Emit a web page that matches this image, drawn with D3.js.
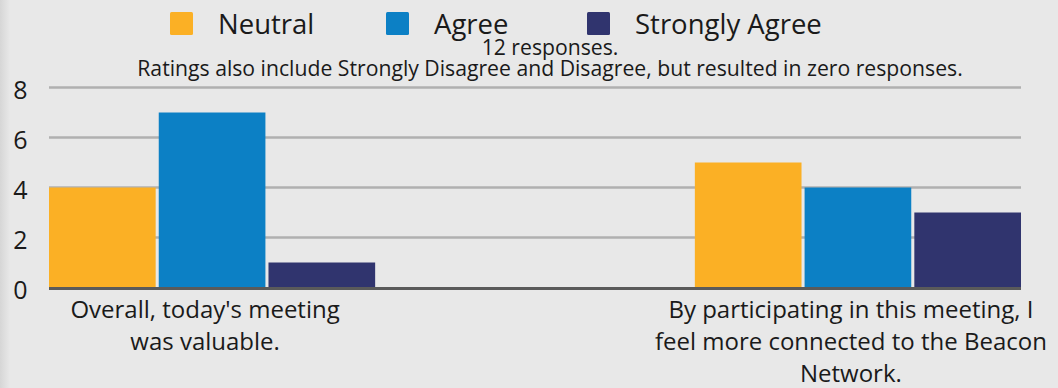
<!DOCTYPE html>
<html>
<head>
<meta charset="utf-8">
<script src="https://cdn.jsdelivr.net/npm/d3@7"></script>
<style>
  html, body { margin: 0; padding: 0; background: #e8e8e8; }
  svg { display: block; font-family: "Open Sans", sans-serif; }
</style>
</head>
<body>
<svg id="chart" width="1058" height="388"></svg>
<script>
// Survey ratings per statement
const categories = [
  "Overall, today's meeting\nwas valuable.",
  "By participating in this meeting, I\nfeel more connected to the Beacon\nNetwork."
];
const seriesNames = ["Neutral", "Agree", "Strongly Agree"];
const neutral = [4, 5];
const agree = [7, 4];
const stronglyAgree = [1, 3];
const yTicks = [0, 2, 4, 6, 8];
const subtitleLines = [
  "12 responses.",
  "Ratings also include Strongly Disagree and Disagree, but resulted in zero responses."
];
const colors = ["#fbb025", "#0c80c5", "#30346e"];

const values = [neutral, agree, stronglyAgree];
const svg = d3.select("#chart");
const W = 1058, H = 388;
const margin = { left: 49, right: 37, top: 88, bottom: 100 };

// soft shading along the left edge
const defs = svg.append("defs");
const grad = defs.append("linearGradient").attr("id", "edge");
grad.append("stop").attr("offset", "0%").attr("stop-color", "#d6d6d6");
grad.append("stop").attr("offset", "100%").attr("stop-color", "#e8e8e8");
svg.append("rect").attr("width", W).attr("height", H).attr("fill", "#e8e8e8");
svg.append("rect").attr("width", 10).attr("height", H).attr("fill", "url(#edge)");

const x0 = d3.scaleBand()
  .domain(d3.range(categories.length))
  .range([margin.left, W - margin.right])
  .paddingInner(0.495)
  .paddingOuter(0);
const x1 = d3.scaleBand()
  .domain(d3.range(seriesNames.length))
  .range([0, x0.bandwidth()])
  .paddingInner(0.028);
const y = d3.scaleLinear().domain([0, 8]).range([H - margin.bottom - 0.5, margin.top - 0.5]);

// gridlines
svg.append("g").selectAll("line").data(yTicks.filter(t => t > 0)).join("line")
  .attr("x1", margin.left).attr("x2", W - margin.right)
  .attr("y1", d => y(d)).attr("y2", d => y(d))
  .attr("stroke", "#b0b0b0").attr("stroke-width", 2.5);

// y tick labels
svg.append("g").selectAll("text").data(yTicks).join("text")
  .attr("x", 27.5).attr("y", d => y(d) + 1.5)
  .attr("text-anchor", "end").attr("dominant-baseline", "central")
  .attr("font-size", 25).attr("fill", "#1a1a1a")
  .text(d => d);

// bars
const groups = svg.append("g").selectAll("g").data(categories).join("g")
  .attr("transform", (d, i) => `translate(${x0(i)},0)`);
groups.selectAll("rect")
  .data((d, i) => values.map((s, k) => ({ k, v: s[i] })))
  .join("rect")
  .attr("x", d => x1(d.k))
  .attr("width", x1.bandwidth())
  .attr("y", d => y(d.v))
  .attr("height", d => y(0) - y(d.v))
  .attr("fill", d => colors[d.k]);

// baseline
svg.append("line")
  .attr("x1", margin.left).attr("x2", W - margin.right)
  .attr("y1", y(0) + 1).attr("y2", y(0) + 1)
  .attr("stroke", "#5a5a5a").attr("stroke-width", 3);

// category labels
const catLabels = svg.append("g").selectAll("text").data(categories).join("text")
  .attr("text-anchor", "middle").attr("font-size", 24).attr("fill", "#1a1a1a");
catLabels.each(function (d, i) {
  const cx = x0(i) + x0.bandwidth() / 2 - 7;
  d3.select(this).selectAll("tspan").data(d.split("\n")).join("tspan")
    .attr("x", cx).attr("y", (t, j) => 318 + j * 31.8)
    .text(t => t);
});

// subtitle
svg.append("g").selectAll("text").data(subtitleLines).join("text")
  .attr("x", 550).attr("y", (d, i) => 55 + i * 20.5)
  .attr("text-anchor", "middle").attr("font-size", 21.2).attr("fill", "#1a1a1a")
  .text(d => d);

// legend
const legendX = [170, 386, 587];
const legend = svg.append("g").selectAll("g").data(seriesNames).join("g")
  .attr("transform", (d, i) => `translate(${legendX[i]},12)`);
legend.append("rect").attr("width", 23).attr("height", 23).attr("rx", 1.5)
  .attr("fill", (d, i) => colors[i]);
legend.append("text").attr("x", 48).attr("y", 21.5)
  .attr("font-size", 27.5).attr("fill", "#1a1a1a").text(d => d);
</script>
</body>
</html>
